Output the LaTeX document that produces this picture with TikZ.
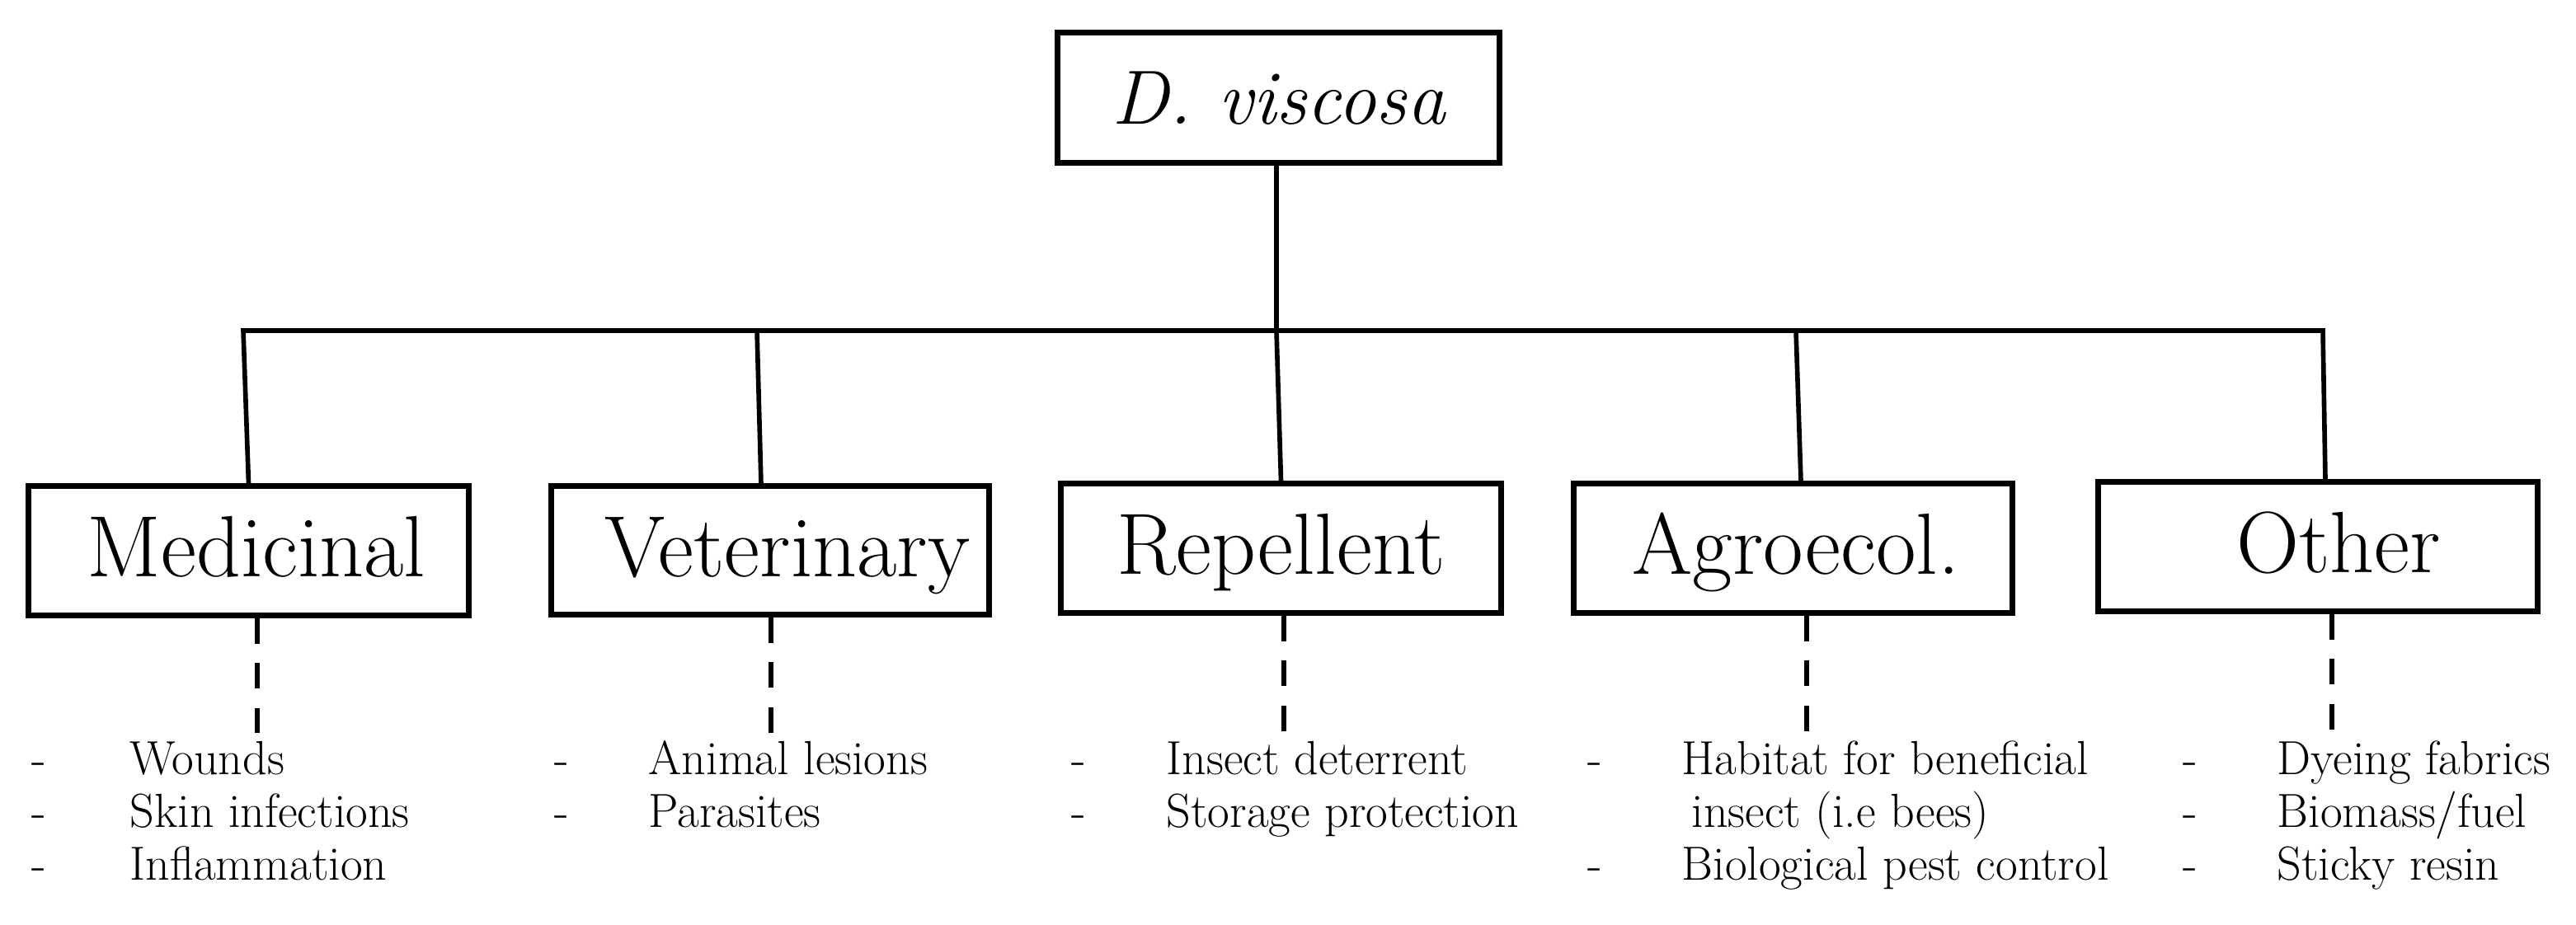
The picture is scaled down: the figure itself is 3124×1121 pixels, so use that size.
\documentclass[tikz,border=0pt]{standalone}
\usepackage{fontspec}
\begin{document}
\begin{tikzpicture}[x=0.01cm,y=-0.01cm,
  box/.style={draw, line width=2pt, inner sep=0pt, minimum height=1.56cm,
    font=\fontsize{30}{36}\selectfont, text height=23pt, text depth=5pt},
  conn/.style={line width=1.6pt, line join=miter},
  dashconn/.style={line width=1.6pt, dash pattern=on 8.8pt off 6.8pt},
  item/.style={anchor=base west, inner sep=0pt, font=\fontsize{16.5}{20}\selectfont}]
\useasboundingbox (0,0) rectangle (3124,1121);

% boxes
\node[box, minimum width=5.35cm, minimum height=1.57cm, font=\fontsize{26.5}{32}\selectfont] (root) at (1550.5,118.5) {\itshape D. viscosa};
\node[box, minimum width=5.33cm] (med) at (301.5,668) {\hspace*{0.19cm}Medicinal};
\node[box, minimum width=5.30cm, minimum height=1.55cm] (vet) at (934,667.5) {\hspace*{0.42cm}Veterinary};
\node[box, minimum width=5.33cm] (rep) at (1553.5,665) {Repellent};
\node[box, minimum width=5.31cm] (agro) at (2174.5,665) {\hspace*{0.07cm}Agroecol.};
\node[box, minimum width=5.32cm] (oth) at (2811,663) {\hspace*{0.5cm}Other};

% bar coordinates
\coordinate (b1) at (295,401);
\coordinate (b2) at (918,401);
\coordinate (bm) at (1548,401);
\coordinate (b4) at (2178,401);
\coordinate (b5) at (2817,401);

% connectors
\draw[conn] (med.north) -- (b1) -- (b5) -- ([xshift=0.09cm]oth.north);
\draw[conn] (root.south -| bm) -- (bm);
\draw[conn] (b2) -- ([xshift=-0.11cm]vet.north);
\draw[conn] (bm) -- (rep.north);
\draw[conn] (b4) -- ([xshift=0.095cm]agro.north);

% dashed ends
\coordinate (d1) at (312,889);
\coordinate (d2) at (935,889);
\coordinate (d3) at (1557,887);
\coordinate (d4) at (2191,887);
\coordinate (d5) at (2828,889);
\draw[dashconn] (d1 |- med.south) -- (d1);
\draw[dashconn] (d2 |- vet.south) -- (d2);
\draw[dashconn] (d3 |- rep.south) -- (d3);
\draw[dashconn] (d4 |- agro.south) -- (d4);
\draw[dashconn] (d5 |- oth.south) -- (d5);

% items column 1
\node[item] (m1h) at (38,939) {-};
\node[item] (m2h) at (38,1003) {-};
\node[item] (m3h) at (38,1067) {-};
\node[item] (m1) at (157,939) {Wounds};
\node[item] (m2) at (157,1003) {Skin infections};
\node[item] (m3) at (157,1067) {Inflammation};
% column 2
\node[item] (v1h) at (672,939) {-};
\node[item] (v2h) at (672,1003) {-};
\node[item] (v1) at (786,939) {Animal lesions};
\node[item] (v2) at (786,1003) {Parasites};
% column 3
\node[item] (r1h) at (1299,939) {-};
\node[item] (r2h) at (1299,1003) {-};
\node[item] (r1) at (1414,939) {Insect deterrent};
\node[item] (r2) at (1414,1003) {Storage protection};
% column 4
\node[item] (a1h) at (1925,939) {-};
\node[item] (a3h) at (1925,1067) {-};
\node[item] (a1) at (2039,939) {Habitat for beneficial};
\node[item] (a2) at (2051,1003) {insect (i.e bees)};
\node[item] (a3) at (2039,1067) {Biological pest control};
% column 5
\node[item] (o1h) at (2647,939) {-};
\node[item] (o2h) at (2647,1003) {-};
\node[item] (o3h) at (2647,1067) {-};
\node[item] (o1) at (2761,939) {Dyeing fabrics};
\node[item] (o2) at (2761,1003) {Biomass/fuel};
\node[item] (o3) at (2761,1067) {Sticky resin};
\end{tikzpicture}
\end{document}
